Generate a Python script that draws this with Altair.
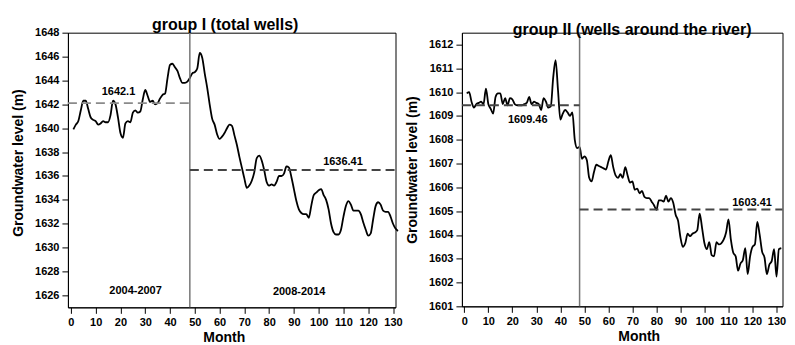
import altair as alt
import pandas as pd

# ---------------- data ----------------
months = list(range(1, 133))

group1_level = [
    1639.9, 1640.3, 1640.6, 1641.5, 1642.3, 1642.3, 1641.6, 1640.9, 1640.7, 1640.6,
    1640.3, 1640.4, 1640.6, 1640.5, 1640.5, 1641.1, 1642.3, 1642.0, 1640.9, 1639.6,
    1639.2, 1640.4, 1640.6, 1640.5, 1641.3, 1641.5, 1641.3, 1641.4, 1642.4, 1643.2,
    1642.7, 1642.2, 1642.3, 1642.0, 1642.1, 1642.5, 1642.8, 1642.9, 1644.2, 1645.3,
    1645.4, 1645.1, 1644.8, 1644.2, 1643.8, 1643.8, 1643.9, 1644.2, 1644.6, 1644.7,
    1645.0, 1646.3, 1645.9, 1644.6, 1643.4, 1642.0, 1640.8, 1640.3, 1639.5, 1639.1,
    1639.3, 1639.6, 1640.0, 1640.3, 1640.2, 1639.4, 1638.6, 1637.6, 1636.7, 1635.8,
    1635.0, 1635.2, 1635.6, 1636.3, 1637.5, 1637.7, 1637.3, 1636.5, 1635.5, 1635.2,
    1635.3, 1635.2, 1635.5, 1636.0, 1636.0, 1636.2, 1636.8, 1636.7, 1635.9, 1634.9,
    1633.9, 1633.2, 1632.9, 1632.8, 1632.8, 1632.5, 1633.5, 1634.4, 1634.6, 1634.8,
    1634.9, 1634.4, 1634.0, 1633.2, 1632.0, 1631.3, 1631.1, 1631.1, 1631.5, 1632.6,
    1633.5, 1633.9, 1633.6, 1633.1, 1633.1, 1633.1, 1632.8, 1632.1, 1631.5, 1631.0,
    1631.2, 1632.4, 1633.5, 1633.8, 1633.6, 1633.1, 1633.0, 1633.0, 1632.6, 1632.0,
    1631.6, 1631.4,
]

group2_level = [
    1609.95, 1610.0, 1609.6, 1609.35, 1609.5, 1609.55, 1609.6, 1609.5, 1610.15, 1609.5,
    1609.3, 1609.1, 1609.8, 1609.95, 1609.95, 1609.5, 1609.75, 1609.45, 1609.75, 1609.7,
    1609.5, 1609.45, 1609.45, 1609.45, 1609.5, 1609.55, 1609.8, 1609.5, 1609.6, 1609.55,
    1609.5, 1609.25, 1609.75, 1609.6, 1609.35, 1609.4, 1610.6, 1611.35, 1610.1, 1608.85,
    1609.1, 1609.25, 1609.15, 1609.0, 1609.15, 1608.0, 1607.65, 1607.7, 1607.2, 1607.3,
    1607.15, 1606.4, 1606.25, 1606.65, 1606.95, 1606.9, 1606.85, 1606.8, 1606.75, 1607.1,
    1607.35, 1606.85, 1606.5, 1606.4, 1606.55, 1606.4, 1606.85, 1606.5, 1606.2, 1606.25,
    1605.9, 1605.95, 1605.75, 1605.85, 1605.6, 1605.55, 1605.55, 1605.4, 1605.25, 1605.05,
    1605.45, 1605.45, 1605.4, 1605.65, 1605.4, 1605.55, 1605.35, 1604.85, 1604.6, 1603.9,
    1603.5, 1603.65, 1604.05, 1603.95, 1604.05, 1604.1, 1604.2, 1604.9, 1604.3, 1603.65,
    1603.4, 1603.7, 1603.15, 1603.1, 1603.7, 1603.6, 1603.65, 1603.8, 1604.1, 1604.65,
    1603.8, 1603.25, 1603.1, 1602.5, 1602.8, 1602.95, 1603.45, 1602.35, 1603.1, 1603.5,
    1603.6, 1604.55, 1604.0, 1603.3, 1603.05, 1602.35, 1602.75, 1602.9, 1603.4, 1602.25,
    1603.4, 1603.45,
]

period_split = 48

# mean segments: start month, end month, level
g1_seg_start = [-1.2, 48]
g1_seg_end = [48, 131]
g1_seg_level = [1642.1, 1636.5]
g1_seg_color = ["#8a8a8a", "#444444"]

g2_seg_start = [-1, 48]
g2_seg_end = [48, 132.5]
g2_seg_level = [1609.45, 1605.07]
g2_seg_color = ["#444444", "#444444"]

# annotations
g1_text = ["1642.1", "1636.41", "2004-2007", "2008-2014"]
g1_text_x = [19.2, 109.8, 26.1, 92.1]
g1_text_y = [1643.0, 1637.2, 1626.4, 1626.3]

g2_text = ["1609.46", "1603.41"]
g2_text_x = [26.4, 119.8]
g2_text_y = [1608.83, 1605.33]

x_ticks = list(range(0, 131, 10))
g1_y_ticks = list(range(1626, 1649, 2))
g2_y_ticks = list(range(1601, 1613, 1))

FONT = "Liberation Sans"


def panel(title, dx, levels, xdom, ydom, yticks, seg_start, seg_end, seg_level, seg_color,
          txt, txt_x, txt_y, width, height, month_x, ytitle_y=None):
    df = pd.DataFrame({"month": months, "level": levels})
    seg = pd.DataFrame({"month": seg_start, "x2": seg_end, "level": seg_level, "c": seg_color})
    lab = pd.DataFrame({"month": txt_x, "level": txt_y, "t": txt})
    split = pd.DataFrame({"month": [period_split]})

    xscale = alt.Scale(domain=xdom, nice=False, zero=False)
    yscale = alt.Scale(domain=ydom, nice=False, zero=False)

    xaxis = alt.Axis(values=x_ticks, title="Month", format="d",
                     labelOverlap=False, labelFlush=False, labelBound=False,
                     titlePadding=3, titleX=month_x)
    yaxis_kw = dict(values=yticks, title="Groundwater level (m)", format="d",
                    labelOverlap=False, labelFlush=False, labelBound=False, titlePadding=9)
    if ytitle_y is not None:
        yaxis_kw["titleY"] = ytitle_y
    yaxis = alt.Axis(**yaxis_kw)

    X = alt.X("month:Q", scale=xscale, axis=xaxis)
    Y = alt.Y("level:Q", scale=yscale, axis=yaxis)

    line = alt.Chart(df).mark_line(color="black", strokeWidth=1.8, interpolate="monotone").encode(
        x=X, y=Y,
    )
    vline = alt.Chart(split).mark_rule(color="#777777", strokeWidth=1.5).encode(x=X)
    dashes = alt.Chart(seg).mark_rule(strokeWidth=1.8, strokeDash=[9, 5]).encode(
        x=X, x2="x2:Q", y=Y,
        color=alt.Color("c:N", scale=None),
    )
    texts = alt.Chart(lab).mark_text(font=FONT, fontSize=11, fontWeight="bold", color="black").encode(
        x=X, y=Y, text="t:N",
    )
    return alt.layer(line, vline, dashes, texts).properties(
        width=width, height=height,
        title=alt.TitleParams(title, offset=-6.5, dx=dx, frame="group"),
    )


left = panel("group I (total wells)", -6.5, group1_level, [-1.2, 131], [1625, 1648], g1_y_ticks,
             g1_seg_start, g1_seg_end, g1_seg_level, g1_seg_color,
             g1_text, g1_text_x, g1_text_y, 328, 275, 156, 130)
right = panel("group II (wells around the river)", 10, group2_level, [-1, 132.5], [1601, 1612.5], g2_y_ticks,
              g2_seg_start, g2_seg_end, g2_seg_level, g2_seg_color,
              g2_text, g2_text_x, g2_text_y, 321, 274, 177)

chart = alt.hconcat(left, right, spacing=66.5, bounds="flush").properties(
    padding={"left": 3, "top": 8.5, "right": 0, "bottom": 0}
).configure_axis(
    grid=False,
    domainColor="black",
    tickColor="black",
    labelColor="black",
    titleColor="black",
    labelFont=FONT,
    titleFont=FONT,
    labelFontSize=11,
    labelFontWeight="bold",
    titleFontSize=14,
    titleFontWeight="bold",
    tickSize=6,
    labelPadding=3,
    labelOverlap=False,
).configure_view(
    stroke="black", strokeWidth=1
).configure_title(
    font=FONT, fontSize=16, fontWeight="bold", color="black", anchor="middle"
)

chart.save("out.html", embed_options={"renderer": "svg", "actions": False})
